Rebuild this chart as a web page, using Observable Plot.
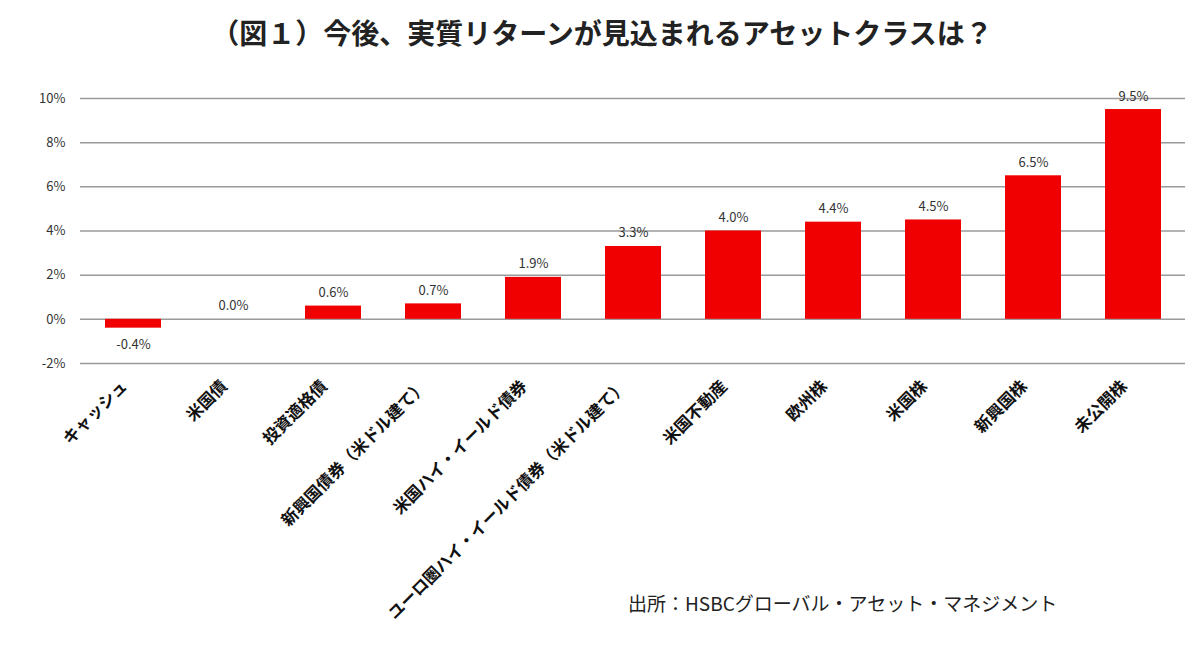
<!DOCTYPE html>
<html><head><meta charset="utf-8">
<script src="https://cdn.jsdelivr.net/npm/d3@7"></script>
<script src="https://cdn.jsdelivr.net/npm/@observablehq/plot@0.6"></script>
<style>
body{margin:0;background:#fff;font-family:"Noto Sans CJK JP",sans-serif;width:1200px;height:645px;overflow:hidden}
#title{height:65px;line-height:64px;text-align:center;font-size:28px;font-weight:bold;color:#222;padding-left:4px}
#chart{height:560px}
#caption{position:relative;padding-left:628px;font-size:19px;line-height:24px;color:#222;margin-top:-34px}
</style></head><body>
<div id="title">（図１）今後、実質リターンが見込まれるアセットクラスは？</div>
<div id="chart"></div>
<div id="caption">出所：HSBCグローバル・アセット・マネジメント</div>
<script>
const categories = ["キャッシュ","米国債","投資適格債","新興国債券（米ドル建て）","米国ハイ・イールド債券","ユーロ圏ハイ・イールド債券（米ドル建て）","米国不動産","欧州株","米国株","新興国株","未公開株"];
const values = [-0.4, 0.0, 0.6, 0.7, 1.9, 3.3, 4.0, 4.4, 4.5, 6.5, 9.5];
const yTicks = [-2, 0, 2, 4, 6, 8, 10];

const data = categories.map((c, i) => ({cat: c, value: values[i], label: values[i].toFixed(1) + "%"}));
const pos = data.filter(d => d.value >= 0);
const neg = data.filter(d => d.value < 0);

const chart = Plot.plot({
  width: 1200, height: 560,
  marginTop: 33, marginBottom: 262, marginLeft: 80, marginRight: 15,
  style: {fontFamily: '"Noto Sans CJK JP", sans-serif', background: "white", color: "#222"},
  x: {domain: categories, paddingInner: 0.44, paddingOuter: 0.22, label: null},
  y: {domain: [-2, 10], label: null},
  marks: [
    Plot.ruleY(yTicks, {stroke: "#9a9a9a", strokeWidth: 1.5}),
    Plot.barY(data, {x: "cat", y: "value", fill: "#f00000"}),
    Plot.text(pos, {x: "cat", y: "value", text: "label", dy: -9, lineAnchor: "bottom", fontSize: 13, fill: "#333"}),
    Plot.text(neg, {x: "cat", y: "value", text: "label", dy: 12, lineAnchor: "top", fontSize: 13, fill: "#333"}),
    Plot.axisY({ticks: yTicks, tickSize: 0, tickPadding: 15, tickFormat: d => d + "%", fontSize: 13, fill: "#333", label: null}),
    Plot.axisX({tickSize: 0, tickRotate: -45, tickPadding: 20, dx: -9, fontSize: 16.5, fontWeight: "bold", fill: "#111", label: null})
  ]
});
document.getElementById("chart").appendChild(chart);
</script>
</body></html>
